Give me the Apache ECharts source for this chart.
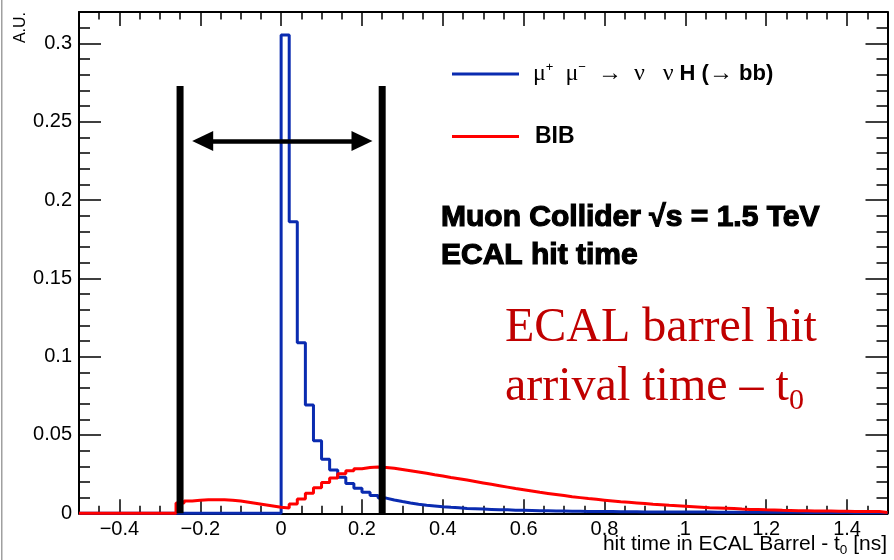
<!DOCTYPE html>
<html><head><meta charset="utf-8">
<script src="https://cdn.jsdelivr.net/npm/echarts@6/dist/echarts.min.js"></script>
<style>html,body{margin:0;padding:0;background:#fff}#c{width:894px;height:560px}</style>
</head><body><div id="c"></div>
<script>
// ---- data ----
const binStart = -0.5;
const binWidth = 0.02;
const signalName = 'signal';
const bibName = 'BIB';
const signalValues = [
0,0,0,0,0,0,0,0,0,0,0,0,0,0,0,0,0,0,0,0,0,0,0,0,0,
0.3053,0.1861,0.1089,0.0691,0.0463,0.0345,0.0276,0.0230,0.0191,0.0160,
0.0134,0.0113,0.0097,0.0085,0.0075,0.0066,0.0058,0.0052,0.0047,0.0042,
0.0038,0.0035,0.0031,0.0029,0.0027,0.0025,0.0023,0.0022,0.0020,0.0019,
0.0018,0.0017,0.0016,0.0015,0.0014,0.0013,0.0013,0.0012,0.0012,0.0011,
0.0011,0.0010,0.0010,0.0010,0.0009,0.0009,0.0009,0.0009,0.0008,0.0008,
0.0008,0.0008,0.0008,0.0007,0.0007,0.0007,0.0007,0.0007,0.0007,0.0006,
0.0006,0.0006,0.0006,0.0006,0.0005,0.0005,0.0005,0.0005,0.0005,0.0005,
0.0004,0.0004,0.0004,0.0004,0.0004];
const bibValues = [
0,0,0,0,0,0,0,0,0,0,0,0,
0.0065,0.0078,0.0083,0.0086,0.0087,0.0087,0.0084,0.0078,0.0070,0.0062,0.0054,0.0046,0.0038,
0.0034,0.0060,0.0092,0.0128,0.0163,0.0196,0.0226,0.0252,0.0272,0.0285,
0.0292,0.0295,0.0293,0.0287,0.0279,0.0271,0.0263,0.0255,0.0246,0.0238,
0.0229,0.0221,0.0212,0.0203,0.0194,0.0185,0.0176,0.0167,0.0158,0.0150,
0.0142,0.0134,0.0127,0.0120,0.0113,0.0106,0.0100,0.0094,0.0089,0.0084,
0.0079,0.0074,0.0070,0.0066,0.0062,0.0058,0.0055,0.0051,0.0048,0.0045,
0.0042,0.0039,0.0036,0.0034,0.0032,0.0030,0.0027,0.0025,0.0024,0.0022,
0.0021,0.0019,0.0018,0.0017,0.0016,0.0015,0.0014,0.0014,0.0013,0.0013,
0.0012,0.0012,0.0011,0.0011,0.0005];
const xMajorTicks = [-0.4,-0.2,0,0.2,0.4,0.6,0.8,1,1.2,1.4];
const xMinorTicks = [-0.45,-0.35,-0.3,-0.25,-0.15,-0.1,-0.05,0.05,0.1,0.15,0.25,0.3,0.35,0.45,0.5,0.55,0.65,0.7,0.75,0.85,0.9,0.95,1.05,1.1,1.15,1.25,1.3,1.35,1.45];
const yMajorTicks = [0,0.05,0.1,0.15,0.2,0.25,0.3];
const yMinorTicks = [0.01,0.02,0.03,0.04,0.06,0.07,0.08,0.09,0.11,0.12,0.13,0.14,0.16,0.17,0.18,0.19,0.21,0.22,0.23,0.24,0.26,0.27,0.28,0.29,0.31];
const cutValues = [-0.25, 0.25];
const cutTop = 0.2728;
const arrowY = 0.2377;
const arrowEnds = [-0.194, 0.2];
const xTitleMain = 'hit time in ECAL Barrel - t';
const xTitleSub = '0';
const xTitleEnd = ' [ns]';

// ---- styles ----
const BLUE = '#0a2bb0', RED = '#ff0000', DARKRED = '#c00000';
const SANS = 'Liberation Sans', SERIF = 'Liberation Serif';

function histPoints(vals) {
  const pts = [];
  for (let i = 0; i < vals.length; i++) pts.push([+(binStart + i * binWidth).toFixed(2), vals[i]]);
  pts.push([+(binStart + vals.length * binWidth).toFixed(2), vals[vals.length - 1]]);
  return pts;
}
const fmtX = v => (v < 0 ? '\u2212' + Math.abs(v) : String(v));
const mctx = document.createElement('canvas').getContext('2d');
function textW(t, font) { mctx.font = font; return mctx.measureText(t).width; }

function xAx(pos, ticks, len, isMain, showLine) {
  return {
    type: 'value', position: pos, min: -0.5, max: 1.5,
    axisLine: { show: showLine, onZero: false, lineStyle: { color: '#000', width: 2 } },
    axisTick: { show: true, inside: true, length: len, customValues: ticks, lineStyle: { color: '#000', width: 1.5 } },
    axisLabel: isMain ? { show: true, customValues: xMajorTicks, formatter: fmtX, color: '#000', fontFamily: SANS, fontSize: 20, margin: 6 } : { show: false },
    splitLine: { show: false }, minorTick: { show: false }
  };
}
function yAx(pos, ticks, len, isMain, showLine) {
  return {
    type: 'value', position: pos, min: 0, max: 0.32,
    axisLine: { show: showLine, onZero: false, lineStyle: { color: '#000', width: 2 } },
    axisTick: { show: true, inside: true, length: len, customValues: ticks, lineStyle: { color: '#000', width: 1.5 } },
    axisLabel: isMain ? { show: true, customValues: yMajorTicks, color: '#000', fontFamily: SANS, fontSize: 20, margin: 7 } : { show: false },
    splitLine: { show: false }, minorTick: { show: false }
  };
}

// axis-title pieces laid out right-aligned at the frame edge
const titleRight = 887;
const wEnd = textW(xTitleEnd, '21px "Liberation Sans"');
const wSub = textW(xTitleSub, '13.5px "Liberation Sans"');
const xEnd = titleRight - wEnd, xSub = xEnd - wSub;

const chart = echarts.init(document.getElementById('c'), null, { renderer: 'canvas' });
const legendRich = {
  p: { fontFamily: SERIF, fontSize: 24, lineHeight: 26, color: '#000', padding: [0, 0, 0, 9] },
  s: { fontFamily: SERIF, fontSize: 24, lineHeight: 26, color: '#000' },
  sup: { fontFamily: SANS, fontSize: 13, lineHeight: 14, verticalAlign: 'top', color: '#000' },
  b: { fontFamily: SANS, fontWeight: 'bold', fontSize: 22, lineHeight: 26, color: '#000' },
  bp: { fontFamily: SANS, fontWeight: 'bold', fontSize: 23, lineHeight: 26, color: '#000', padding: [0, 0, 0, 11] }
};
const heavy = { fontFamily: SANS, fontWeight: 'bold', fontSize: 30, fill: '#000', stroke: '#000', lineWidth: 1.2, verticalAlign: 'middle' };
const option = {
  animation: false,
  backgroundColor: '#fff',
  grid: { left: 79, right: 6.5, top: 12, bottom: 46.7, containLabel: false, outerBoundsMode: 'none' },
  xAxis: [
    xAx('bottom', xMajorTicks, 14, true, true),
    xAx('bottom', xMinorTicks, 7.5, false, false),
    xAx('top', xMajorTicks, 14, false, true),
    xAx('top', xMinorTicks, 7.5, false, false)
  ],
  yAxis: [
    yAx('left', yMajorTicks, 22, true, true),
    yAx('left', yMinorTicks, 11, false, false),
    yAx('right', yMajorTicks, 22, false, true),
    yAx('right', yMinorTicks, 11, false, false)
  ],
  legend: [
    { data: [signalName], left: 452, top: 61, padding: 0, icon: 'rect', itemWidth: 67, itemHeight: 3, selectedMode: false,
      formatter: () => '{p|\u03bc}{sup|+}{s|  \u03bc}{sup|\u2212}{s|  \u2192  \u03bd   \u03bd }{b|H (}{s|\u2192}{b| bb)}',
      textStyle: { rich: legendRich } },
    { data: [bibName], left: 452, top: 125, padding: 0, icon: 'rect', itemWidth: 67, itemHeight: 3, selectedMode: false,
      formatter: () => '{bp|BIB}', textStyle: { rich: legendRich } }
  ],
  series: [
    { type: 'line', name: signalName, data: histPoints(signalValues), step: 'end', symbol: 'none', clip: false, z: 2,
      color: BLUE, lineStyle: { color: BLUE, width: 3 }, itemStyle: { color: BLUE }, silent: true },
    { type: 'line', name: bibName, data: histPoints(bibValues), step: 'end', symbol: 'none', clip: false, z: 3,
      color: RED, lineStyle: { color: RED, width: 3 }, itemStyle: { color: RED }, silent: true },
    { type: 'line', name: 'cutLow', data: [[cutValues[0], 0], [cutValues[0], cutTop]], symbol: 'none', clip: false, z: 4,
      lineStyle: { color: '#000', width: 7, cap: 'butt' }, silent: true,
      markLine: { silent: true, animation: false, symbol: ['triangle', 'triangle'], symbolSize: [20, 21], label: { show: false },
        lineStyle: { color: '#000', width: 4.5, type: 'solid' }, emphasis: { disabled: true },
        data: [[{ coord: [arrowEnds[0], arrowY] }, { coord: [arrowEnds[1], arrowY] }]] } },
    { type: 'line', name: 'cutHigh', data: [[cutValues[1], 0], [cutValues[1], cutTop]], symbol: 'none', clip: false, z: 4,
      lineStyle: { color: '#000', width: 7, cap: 'butt' }, silent: true }
  ],
  graphic: [
    { type: 'rect', shape: { x: 1, y: 0, width: 1.5, height: 560 }, style: { fill: '#a0a0a0' }, silent: true },
    { type: 'text', x: 21, y: 12, rotation: Math.PI / 2, silent: true,
      style: { text: 'A.U.', fontFamily: SANS, fontSize: 16, fill: '#000', align: 'right', verticalAlign: 'middle' } },
    { type: 'text', x: xSub, y: 544.5, silent: true,
      style: { text: xTitleMain, fontFamily: SANS, fontSize: 21, fill: '#000', align: 'right', verticalAlign: 'middle' } },
    { type: 'text', x: xSub, y: 550.5, silent: true,
      style: { text: xTitleSub, fontFamily: SANS, fontSize: 13.5, fill: '#000', align: 'left', verticalAlign: 'middle' } },
    { type: 'text', x: xEnd, y: 544.5, silent: true,
      style: { text: xTitleEnd, fontFamily: SANS, fontSize: 21, fill: '#000', align: 'left', verticalAlign: 'middle' } },
    { type: 'text', x: 441, y: 218, silent: true, style: Object.assign({ text: 'Muon Collider \u221as = 1.5 TeV' }, heavy) },
    { type: 'text', x: 441, y: 256, silent: true, style: Object.assign({ text: 'ECAL hit time' }, heavy) },
    { type: 'text', x: 505, y: 328, silent: true,
      style: { text: 'ECAL barrel hit', fontFamily: SERIF, fontSize: 48, fill: DARKRED, verticalAlign: 'middle' } },
    { type: 'text', x: 505, y: 387, silent: true,
      style: { text: 'arrival time \u2013 t', fontFamily: SERIF, fontSize: 48, fill: DARKRED, verticalAlign: 'middle' } },
    { type: 'text', x: 789, y: 401.6, silent: true,
      style: { text: '0', fontFamily: SERIF, fontSize: 30, fill: DARKRED, verticalAlign: 'middle' } }
  ]
};
chart.setOption(option);
</script>
</body></html>
